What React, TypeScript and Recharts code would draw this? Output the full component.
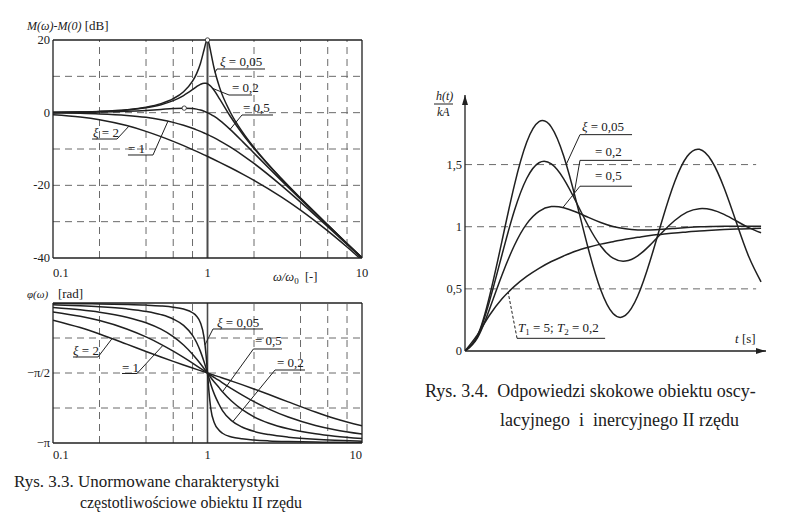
import React from 'react';
import { LineChart, Line, XAxis, YAxis, ReferenceLine, ReferenceDot } from 'recharts';

const FONT = '"Liberation Serif", "DejaVu Serif", serif';
const INK = '#202020';
const GRID = '#6a6a6a';

// ---------- Rys. 3.3 (top): M(ω)-M(0) [dB] vs ω/ω0 ----------
const magW = [0.1, 0.15, 0.2, 0.3, 0.4, 0.5, 0.6, 0.7, 0.8, 0.85, 0.9, 0.95, 0.98, 0.99, 1, 1.01, 1.02, 1.05, 1.1, 1.2, 1.4, 1.7, 2, 3, 4, 6, 8, 10];
const magZ005 = [0.087, 0.197, 0.353, 0.814, 1.504, 2.48, 3.84, 5.77, 8.66, 10.75, 13.55, 17.32, 19.52, 19.92, 20, 19.74, 19.19, 16.67, 12.5, 6.82, 0.263, -5.56, -9.56, -18.07, -23.52, -30.88, -35.99, -39.91];
const magZ02 = [0.08, 0.181, 0.325, 0.744, 1.36, 2.2, 3.305, 4.705, 6.345, 7.153, 7.806, 8.127, 8.09, 8.035, 7.959, 7.862, 7.744, 7.284, 6.24, 3.726, -0.917, -6.058, -9.841, -18.159, -23.571, -30.902, -35.998, -39.92];
const magZ05 = [0.043, 0.097, 0.17, 0.371, 0.627, 0.902, 1.137, 1.249, 1.137, 0.972, 0.726, 0.4, 0.168, 0.086, 0, -0.088, -0.179, -0.465, -0.983, -2.131, -4.596, -8.104, -11.139, -18.633, -23.82, -31.007, -36.056, -39.957];
const magZ1 = [-0.086, -0.193, -0.341, -0.749, -1.289, -1.938, -2.671, -3.464, -4.297, -4.723, -5.154, -5.587, -5.847, -5.934, -6.021, -6.108, -6.194, -6.455, -6.888, -7.748, -9.425, -11.799, -13.979, -20, -24.609, -31.364, -36.258, -40.086];
const magZ2 = [-0.569, -1.191, -1.936, -3.557, -5.14, -6.592, -7.903, -9.085, -10.158, -10.658, -11.138, -11.599, -11.866, -11.954, -12.041, -12.128, -12.213, -12.467, -12.879, -13.661, -15.09, -16.974, -18.633, -23.181, -26.821, -32.555, -36.983, -40.569];
const magPeakW = [1, 0.707];
const magPeakDb = [20, 1.25];
const magXTicks = [0.1, 1, 10];
const magYTicks = [-40, -20, 0, 20];
const magGridX = [0.2, 0.4, 0.6, 0.8, 2, 4, 6, 8];
const magGridY = [-30, -20, -10, 0, 10];

// ---------- Rys. 3.3 (bottom): φ(ω) [rad] ----------
const phW = [0.1, 0.15, 0.2, 0.3, 0.4, 0.5, 0.6, 0.7, 0.8, 0.85, 0.9, 0.95, 0.98, 0.99, 1, 1.01, 1.02, 1.05, 1.11, 1.18, 1.25, 1.43, 1.67, 2, 2.5, 3.33, 5, 6.67, 10];
const phZ005 = [-0.0101, -0.0153, -0.0208, -0.033, -0.0476, -0.0666, -0.0935, -0.1364, -0.2187, -0.2972, -0.4424, -0.7724, -1.1868, -1.3724, -1.5708, -1.7692, -1.9548, -2.3692, -2.6992, -2.8444, -2.9229, -3.0052, -3.0481, -3.075, -3.094, -3.1086, -3.1208, -3.1263, -3.1315];
const phZ02 = [-0.0404, -0.0613, -0.0831, -0.1311, -0.1882, -0.2606, -0.3588, -0.5021, -0.7266, -0.8863, -1.0852, -1.3196, -1.4701, -1.5206, -1.5708, -1.621, -1.6715, -1.822, -2.0564, -2.2553, -2.415, -2.6395, -2.7828, -2.881, -2.9534, -3.0105, -3.0585, -3.0803, -3.1012];
const phZ05 = [-0.1007, -0.1523, -0.2054, -0.3185, -0.4444, -0.588, -0.7532, -0.9412, -1.1479, -1.2552, -1.3627, -1.4685, -1.5304, -1.5507, -1.5708, -1.5909, -1.6112, -1.6731, -1.7789, -1.8864, -1.9937, -2.2004, -2.3884, -2.5536, -2.6972, -2.8231, -2.9362, -2.9893, -3.0409];
const phZ1 = [-0.1993, -0.2978, -0.3948, -0.5829, -0.761, -0.9273, -1.0808, -1.2215, -1.3495, -1.409, -1.4656, -1.5195, -1.5506, -1.5607, -1.5708, -1.5809, -1.591, -1.6221, -1.676, -1.7326, -1.7921, -1.9201, -2.0608, -2.2143, -2.3806, -2.5587, -2.7468, -2.8438, -2.9423];
const phZ2 = [-0.384, -0.5505, -0.6947, -0.922, -1.0873, -1.212, -1.3102, -1.3906, -1.4588, -1.4894, -1.5181, -1.5451, -1.5607, -1.5658, -1.5708, -1.5758, -1.5809, -1.5965, -1.6235, -1.6522, -1.6828, -1.751, -1.8314, -1.9296, -2.0543, -2.2196, -2.4469, -2.5911, -2.7576];
const phYTicks = [-Math.PI, -Math.PI / 2];
const phYLabels = ['−π', '−π/2'];
const phGridY = [-Math.PI * 3 / 4, -Math.PI / 2, -Math.PI / 4];

// ---------- Rys. 3.4: h(t)/kA ----------
const stepT = [0, 0.5, 1, 1.5, 2, 2.5, 3, 3.5, 4, 4.5, 5, 5.5, 6, 6.5, 7, 7.5, 8, 8.5, 9, 9.5, 10, 10.5, 11, 11.5, 12];
const stepZ005 = [0, 0.12, 0.445, 0.886, 1.333, 1.679, 1.845, 1.802, 1.569, 1.212, 0.821, 0.492, 0.301, 0.286, 0.442, 0.724, 1.058, 1.362, 1.565, 1.623, 1.529, 1.314, 1.034, 0.76, 0.556];
const stepZ02 = [0, 0.115, 0.405, 0.775, 1.128, 1.388, 1.515, 1.505, 1.385, 1.201, 1.006, 0.845, 0.747, 0.724, 0.766, 0.852, 0.956, 1.05, 1.117, 1.145, 1.136, 1.099, 1.046, 0.993, 0.951];
const stepZ05 = [0, 0.104, 0.34, 0.611, 0.849, 1.023, 1.124, 1.162, 1.153, 1.118, 1.075, 1.034, 1.002, 0.983, 0.974, 0.974, 0.979, 0.986, 0.993, 0.999, 1.002, 1.004, 1.004, 1.004, 1.003];
const stepInert = [0, 0.13, 0.29, 0.42, 0.52, 0.6, 0.665, 0.72, 0.765, 0.805, 0.835, 0.86, 0.88, 0.9, 0.915, 0.93, 0.94, 0.95, 0.958, 0.966, 0.972, 0.977, 0.981, 0.984, 0.987];
const stepYTicks = [0, 0.5, 1, 1.5];
const stepYLabels = ['0', '0,5', '1', '1,5'];
const stepGridY = [0.5, 1, 1.5];

const magRows = magW.map((w, i) => ({ w, a: magZ005[i], b: magZ02[i], c: magZ05[i], d: magZ1[i], e: magZ2[i] }));
const phRows = phW.map((w, i) => ({ w, a: phZ005[i], b: phZ02[i], c: phZ05[i], d: phZ1[i], e: phZ2[i] }));
const stepRows = stepT.map((t, i) => ({ t, a: stepZ005[i], b: stepZ02[i], c: stepZ05[i], d: stepInert[i] }));

const curve = { stroke: INK, strokeWidth: 1.5, dot: false, isAnimationActive: false } as const;

const xi = (rest: string) => (
  <>
    <tspan fontStyle="italic">ξ</tspan>
    <tspan>{rest}</tspan>
  </>
);

// annotation: text position, underline [x1,x2,y], leader [x1,y1,x2,y2]
const note = (key: string, tx: number, ty: number, label: React.ReactNode, ul: number[], ld: number[], dashed = false) => [
  <ReferenceDot
    key={key + 't'}
    x={tx}
    y={ty}
    r={0}
    ifOverflow="visible"
    shape={(p: any) => (
      <text x={p.cx} y={p.cy} fontSize={13} fill={INK} fontFamily={FONT} style={{ whiteSpace: 'pre' }}>
        {label}
      </text>
    )}
  />,
  <ReferenceLine key={key + 'u'} segment={[{ x: ul[0], y: ul[2] }, { x: ul[1], y: ul[2] }]} stroke={INK} strokeWidth={1} ifOverflow="visible" />,
  <ReferenceLine
    key={key + 'l'}
    segment={[{ x: ld[0], y: ld[1] }, { x: ld[2], y: ld[3] }]}
    stroke={INK}
    strokeWidth={1}
    strokeDasharray={dashed ? '3 2' : undefined}
    ifOverflow="visible"
  />,
];

const tickText = (x: number, y: number, s: string, anchor: string) => (
  <text x={x} y={y} textAnchor={anchor} fontSize={12.5} fill={INK} fontFamily={FONT}>
    {s}
  </text>
);

const magXTick = (p: any) =>
  tickText(p.x, p.y + 19, String(p.payload.value), p.payload.value === 0.1 ? 'start' : 'middle');
const phXTick = (p: any) =>
  tickText(p.x, p.y + 16, String(p.payload.value), p.payload.value === 0.1 ? 'start' : p.payload.value === 10 ? 'end' : 'middle');
const magYTick = (p: any) => tickText(p.x - 3, p.y + 4, String(p.payload.value), 'end');
const phYTick = (p: any) => tickText(p.x - 3, p.y + 4, phYLabels[phYTicks.indexOf(p.payload.value)] ?? '', 'end');
const stepYTick = (p: any) => tickText(p.x - 3, p.y + 4, stepYLabels[stepYTicks.indexOf(p.payload.value)] ?? '', 'end');

const frameX = [0.1, 10];

export default function App() {
  return (
    <div style={{ position: 'absolute', left: 0, top: 0, width: 793, height: 513, background: '#fff', overflow: 'hidden' }}>
      {/* magnitude */}
      <div style={{ position: 'absolute', left: 0, top: 0 }}>
        <LineChart width={400} height={290} data={magRows} margin={{ top: 40, right: 38, bottom: 12, left: 20 }}>
          <XAxis dataKey="w" type="number" scale="log" domain={[0.1, 10]} allowDataOverflow ticks={magXTicks} height={20} axisLine={false} tickLine={false} tickSize={0} tickMargin={0} tick={magXTick} />
          <YAxis type="number" domain={[-40, 20]} allowDataOverflow ticks={magYTicks} width={33} axisLine={false} tickLine={false} tickSize={0} tickMargin={0} tick={magYTick} />
          {magGridX.map((v) => (
            <ReferenceLine key={'mgx' + v} x={v} stroke={GRID} strokeDasharray="7 5" />
          ))}
          {magGridY.map((v) => (
            <ReferenceLine key={'mgy' + v} y={v} stroke={GRID} strokeDasharray="7 5" />
          ))}
          <ReferenceLine x={1} stroke="#4a4a4a" strokeWidth={2} />
          {frameX.map((v) => (
            <ReferenceLine key={'mfx' + v} x={v} stroke={INK} strokeWidth={1.3} />
          ))}
          <ReferenceLine y={20} stroke={INK} strokeWidth={1.3} />
          <ReferenceLine y={-40} stroke={INK} strokeWidth={1.3} />
          <Line type="monotone" dataKey="a" {...curve} />
          <Line type="monotone" dataKey="b" {...curve} />
          <Line type="monotone" dataKey="c" {...curve} />
          <Line type="monotone" dataKey="d" {...curve} />
          <Line type="monotone" dataKey="e" {...curve} />
          {magPeakW.map((w, i) => (
            <ReferenceDot key={'pk' + i} x={w} y={magPeakDb[i]} r={2.2} fill="#fff" stroke={INK} strokeWidth={0.8} ifOverflow="visible" />
          ))}
          {note('m1', 1.205, 12.84, xi(' = 0,05'), [1.152, 2.356, 12.02], [1.152, 12.02, 1.12, 11.1])}
          {note('m2', 1.441, 5.69, '= 0,2', [1.378, 1.941, 4.86], [1.378, 4.86, 1.08, 6.69])}
          {note('m3', 1.698, 0.18, '= 0,5', [1.672, 2.655, -0.64], [1.672, -0.64, 1.4, -4.6])}
          {note('m4', 0.1816, -6.7, xi(' = 2'), [0.179, 0.2596, -7.25], [0.2596, -7.25, 0.31, -3.72])}
          {note('m5', 0.3056, -11.1, '= 1', [0.3056, 0.4438, -11.65], [0.4438, -11.65, 0.555, -2.33])}
        </LineChart>
      </div>

      {/* phase */}
      <div style={{ position: 'absolute', left: 0, top: 290 }}>
        <LineChart width={400} height={180} data={phRows} margin={{ top: 13, right: 38, bottom: 10, left: 20 }}>
          <XAxis dataKey="w" type="number" scale="log" domain={[0.1, 10]} allowDataOverflow ticks={magXTicks} height={17} axisLine={false} tickLine={false} tickSize={0} tickMargin={0} tick={phXTick} />
          <YAxis type="number" domain={[-Math.PI, 0]} allowDataOverflow ticks={phYTicks} width={33} axisLine={false} tickLine={false} tickSize={0} tickMargin={0} tick={phYTick} />
          {magGridX.map((v) => (
            <ReferenceLine key={'pgx' + v} x={v} stroke={GRID} strokeDasharray="7 5" />
          ))}
          {phGridY.map((v) => (
            <ReferenceLine key={'pgy' + v} y={v} stroke={GRID} strokeDasharray="7 5" />
          ))}
          <ReferenceLine x={1} stroke="#4a4a4a" strokeWidth={1.6} />
          {frameX.map((v) => (
            <ReferenceLine key={'pfx' + v} x={v} stroke={INK} strokeWidth={1.3} />
          ))}
          <ReferenceLine y={0} stroke={INK} strokeWidth={1.3} />
          <ReferenceLine y={-Math.PI} stroke={INK} strokeWidth={1.3} />
          <Line type="monotone" dataKey="a" {...curve} />
          <Line type="monotone" dataKey="b" {...curve} />
          <Line type="monotone" dataKey="c" {...curve} />
          <Line type="monotone" dataKey="d" {...curve} />
          <Line type="monotone" dataKey="e" {...curve} />
          {note('p1', 1.152, -0.5386, xi(' = 0,05'), [1.0854, 2.287, -0.5834], [1.0854, -0.5834, 0.963, -0.94])}
          {note('p2', 2.029, -0.9425, '= 0,5', [1.9827, 3.035, -1.0321], [1.9827, -1.0321, 1.25, -1.9937])}
          {note('p3', 2.818, -1.4362, '= 0,2', [2.735, 4.277, -1.5035], [2.735, -1.5035, 1.46, -2.66])}
          {note('p4', 0.1347, -1.1669, xi(' = 2'), [0.1347, 0.1956, -1.2117], [0.1956, -1.2117, 0.241, -0.8])}
          {note('p5', 0.2797, -1.5483, '= 1', [0.2797, 0.3498, -1.582], [0.3498, -1.582, 0.515, -0.95])}
        </LineChart>
      </div>

      {/* step responses */}
      <div style={{ position: 'absolute', left: 400, top: 80 }}>
        <LineChart width={393} height={300} data={stepRows} margin={{ top: 15, right: 27, bottom: 28, left: 35 }}>
          <XAxis dataKey="t" type="number" domain={[0, 12.2]} allowDataOverflow height={1} tick={false} tickLine={false} axisLine={{ stroke: INK, strokeWidth: 1.3 }} />
          <YAxis type="number" domain={[0, 2.06]} allowDataOverflow ticks={stepYTicks} width={30} tickLine={false} tickSize={0} tickMargin={0} tick={stepYTick} axisLine={{ stroke: INK, strokeWidth: 1.3 }} />
          {stepGridY.map((v) => (
            <ReferenceLine key={'sgy' + v} segment={[{ x: 0, y: v }, { x: 11.8, y: v }]} stroke={GRID} strokeDasharray="7 5" />
          ))}
          <Line type="natural" dataKey="a" {...curve} />
          <Line type="natural" dataKey="b" {...curve} />
          <Line type="natural" dataKey="c" {...curve} />
          <Line type="monotone" dataKey="d" {...curve} />
          <ReferenceDot x={0} y={2.06} r={0} ifOverflow="visible" shape={(p: any) => <polygon points={`${p.cx},${p.cy} ${p.cx - 3},${p.cy + 10} ${p.cx + 3},${p.cy + 10}`} fill={INK} />} />
          <ReferenceDot x={12.2} y={0} r={0} ifOverflow="visible" shape={(p: any) => <polygon points={`${p.cx},${p.cy} ${p.cx - 10},${p.cy - 3} ${p.cx - 10},${p.cy + 3}`} fill={INK} />} />
          {note('s1', 4.74, 1.769, xi(' = 0,05'), [4.66, 6.77, 1.741], [4.66, 1.741, 4.1, 1.5])}
          {note('s2', 5.27, 1.568, '= 0,2', [4.66, 6.77, 1.534], [4.66, 1.534, 4.4, 1.24])}
          {note('s3', 5.27, 1.374, '= 0,5', [4.66, 6.77, 1.326], [4.66, 1.326, 3.97, 1.155])}
          {note(
            's4',
            2.15,
            0.151,
            <>
              <tspan fontStyle="italic">T</tspan>
              <tspan fontSize={9} dy={3}>1</tspan>
              <tspan dy={-3}> = 5; </tspan>
              <tspan fontStyle="italic">T</tspan>
              <tspan fontSize={9} dy={3}>2</tspan>
              <tspan dy={-3}> = 0,2</tspan>
            </>,
            [2.11, 5.68, 0.102],
            [2.11, 0.102, 1.75, 0.47],
            true
          )}
        </LineChart>
      </div>

      {/* titles and captions */}
      <svg width={793} height={513} style={{ position: 'absolute', left: 0, top: 0, pointerEvents: 'none' }} fontFamily={FONT} fill={INK}>
        <text x={27} y={30} fontSize={12} style={{ whiteSpace: 'pre' }}>
          <tspan fontStyle="italic">M(ω)-M(0)</tspan>
          <tspan fontSize={13}> [dB]</tspan>
        </text>
        <text x={273} y={281} fontSize={12.5} style={{ whiteSpace: 'pre' }}>
          <tspan fontStyle="italic">ω/ω</tspan>
          <tspan fontSize={9} dy={3}>0</tspan>
          <tspan dy={-3}>  [-]</tspan>
        </text>
        <text x={27} y={298} fontSize={11} style={{ whiteSpace: 'pre' }}>
          <tspan fontStyle="italic">φ(ω)</tspan>
          <tspan fontSize={13}>   [rad]</tspan>
        </text>
        <text x={436} y={100} fontSize={12} fontStyle="italic">h(t)</text>
        <line x1={434} y1={104} x2={453} y2={104} stroke={INK} strokeWidth={1} />
        <text x={437} y={116} fontSize={12} fontStyle="italic">kA</text>
        <text x={735} y={343} fontSize={13} style={{ whiteSpace: 'pre' }}>
          <tspan fontStyle="italic">t</tspan>
          <tspan> [s]</tspan>
        </text>
        <text x={14} y={487} fontSize={17} style={{ whiteSpace: 'pre' }}>Rys. 3.3. Unormowane charakterystyki</text>
        <text x={80} y={508} fontSize={17} textLength={222} lengthAdjust="spacingAndGlyphs">częstotliwościowe obiektu II rzędu</text>
        <text x={425} y={397} fontSize={18} style={{ whiteSpace: 'pre' }}>Rys. 3.4.  Odpowiedzi skokowe obiektu oscy-</text>
        <text x={500} y={426} fontSize={18} style={{ whiteSpace: 'pre' }}>lacyjnego  i  inercyjnego II rzędu</text>
      </svg>
    </div>
  );
}
